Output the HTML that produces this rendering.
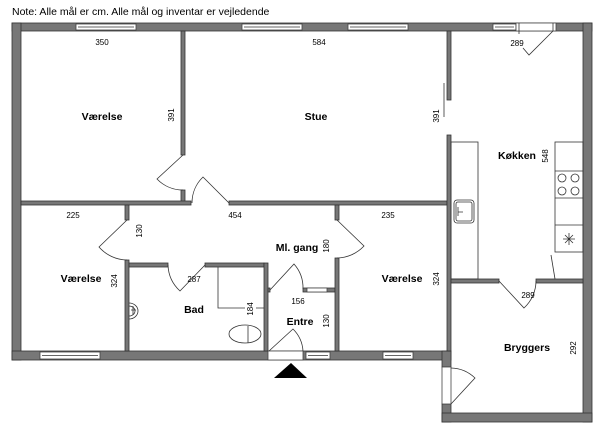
<!DOCTYPE html>
<html><head><meta charset="utf-8"><style>
body{margin:0;background:#fff;width:600px;height:432px;overflow:hidden}
svg{display:block}
.w{fill:#777;stroke:#333;stroke-width:.8}
.l{fill:none;stroke:#333;stroke-width:.8}
.win{fill:#fff;stroke:#444;stroke-width:.8}
text{font-family:"Liberation Sans",sans-serif;fill:#000}
.d{font-size:8px}
.r{font-size:10.5px;font-weight:bold}
</style></head><body>
<svg width="600" height="432" viewBox="0 0 600 432">
<text x="12" y="15" font-size="10.5">Note: Alle mål er cm. Alle mål og inventar er vejledende</text>
<rect class="w" x="12" y="23" width="580" height="8"/>
<rect class="w" x="12" y="23" width="9" height="337"/>
<rect class="w" x="12" y="351" width="439" height="9"/>
<rect class="w" x="583" y="23" width="9" height="399"/>
<rect class="w" x="442" y="351" width="9" height="16"/>
<rect class="w" x="442" y="404" width="9" height="18"/>
<rect class="w" x="442" y="413" width="150" height="9"/>
<rect class="win" x="76" y="24" width="60" height="6"/><line class="l" x1="78" y1="27" x2="134" y2="27"/>
<rect class="win" x="242" y="24" width="60" height="6"/><line class="l" x1="244" y1="27" x2="300" y2="27"/>
<rect class="win" x="348" y="24" width="60" height="6"/><line class="l" x1="350" y1="27" x2="406" y2="27"/>
<rect class="win" x="493" y="24" width="23" height="6"/><line class="l" x1="495" y1="27" x2="514" y2="27"/>
<rect x="516" y="23" width="40" height="8" fill="#fff" stroke="#444" stroke-width=".8"/>
<line class="l" x1="519" y1="23" x2="519" y2="34"/><line class="l" x1="553" y1="23" x2="553" y2="31"/>
<path class="l" d="M553 31 L529 55 L523 48"/>
<rect class="win" x="40" y="352" width="60" height="7"/><line class="l" x1="42" y1="355.5" x2="98" y2="355.5"/>
<rect class="win" x="306" y="352" width="24" height="7"/><line class="l" x1="308" y1="355.5" x2="328" y2="355.5"/>
<rect class="win" x="383" y="352" width="30" height="7"/><line class="l" x1="385" y1="355.5" x2="411" y2="355.5"/>
<rect x="268" y="351" width="35" height="9" fill="#fff" stroke="#444" stroke-width=".8"/>
<rect x="442" y="367" width="9" height="37" fill="#fff" stroke="#444" stroke-width=".8"/>
<rect class="w" x="181" y="31" width="4" height="124"/>
<rect class="w" x="181" y="190" width="4" height="12"/>
<rect class="w" x="21" y="201" width="170" height="4"/>
<rect class="w" x="229" y="201" width="218" height="4"/>
<rect class="w" x="447" y="31" width="4" height="69"/>
<rect class="w" x="447" y="135" width="4" height="216"/>
<line class="l" x1="444" y1="83" x2="444" y2="117"/>
<rect class="w" x="451" y="279" width="48" height="4"/>
<rect class="w" x="536" y="279" width="47" height="4"/>
<rect class="w" x="125" y="205" width="4" height="15"/>
<rect class="w" x="125" y="260" width="4" height="91"/>
<rect class="w" x="129" y="263" width="39" height="4"/>
<rect class="w" x="205" y="263" width="59" height="4"/>
<rect class="w" x="264" y="263" width="4" height="88"/>
<rect class="w" x="268" y="288" width="2" height="4"/>
<rect class="w" x="303" y="288" width="32" height="4"/>
<rect class="win" x="307" y="288" width="20" height="4"/>
<rect class="w" x="335" y="205" width="4" height="15"/>
<rect class="w" x="335" y="258" width="4" height="93"/>
<path class="l" d="M183 155 L157 179 A36 36 0 0 0 183 190"/>
<path class="l" d="M229 203 L203 177 A36 36 0 0 0 192 203"/>
<path class="l" d="M127 220 L99 247 A38 38 0 0 0 127 260"/>
<path class="l" d="M168 265 A37 37 0 0 0 180 291 L205 265"/>
<path class="l" d="M270 290 L294 264 A36 36 0 0 1 303 289"/>
<path class="l" d="M337 220 L364 246 A38 38 0 0 1 337 258"/>
<path class="l" d="M269 351 L293 329 A34 34 0 0 1 303 351"/>
<path class="l" d="M499 281 L524 308 A37 37 0 0 0 536 281"/>
<path class="l" d="M451 404 L475 378 A36 36 0 0 0 451 368"/>
<polygon points="274,378 291,363 307,378" fill="#000"/>
<rect class="l" x="451" y="142" width="27" height="137"/>
<rect class="l" x="454" y="200" width="20" height="23" rx="3"/>
<rect class="l" x="456" y="202" width="16" height="19" rx="2"/>
<path class="l" d="M458 207 V216 M458 212 H463"/>
<rect class="l" x="555" y="142" width="28" height="110"/>
<path class="l" d="M555 171 H583 M555 198 H583 M555 225 H583"/>
<circle class="l" cx="562" cy="178" r="4"/><circle class="l" cx="575" cy="178" r="4"/>
<circle class="l" cx="562" cy="191" r="4"/><circle class="l" cx="575" cy="191" r="4"/>
<path class="l" d="M563 239 H575 M569 233 V245 M565 235 L573 243 M573 235 L565 243"/>
<line class="l" x1="551" y1="255" x2="555" y2="279"/>
<path class="l" d="M218 267 V308 H245 M256 308 H264"/>
<ellipse class="l" cx="245" cy="334" rx="16" ry="9"/>
<line class="l" x1="248" y1="326" x2="248" y2="343"/>
<path class="l" d="M129 303 A9 8 0 0 1 129 319"/>
<path class="l" d="M129 306 A6 5 0 0 1 129 316 M133 306 V315 M131 310 H136"/>
<g class="d" text-anchor="middle">
<text x="102" y="45">350</text><text x="319" y="45">584</text><text x="517" y="46">289</text>
<text x="73" y="218">225</text><text x="235" y="218">454</text><text x="388" y="218">235</text>
<text x="194" y="282">287</text><text x="298" y="304">156</text><text x="528" y="298">289</text>
<text transform="translate(174,115) rotate(-90)">391</text>
<text transform="translate(439,116) rotate(-90)">391</text>
<text transform="translate(548,156) rotate(-90)">548</text>
<text transform="translate(142,231) rotate(-90)">130</text>
<text transform="translate(329,246) rotate(-90)">180</text>
<text transform="translate(117,281) rotate(-90)">324</text>
<text transform="translate(253,309) rotate(-90)">184</text>
<text transform="translate(329,321) rotate(-90)">130</text>
<text transform="translate(439,279) rotate(-90)">324</text>
<text transform="translate(576,348) rotate(-90)">292</text>
</g>
<g class="r" text-anchor="middle">
<text x="102" y="120">Værelse</text><text x="316" y="120">Stue</text><text x="517" y="159">Køkken</text>
<text x="297" y="251">Ml. gang</text><text x="81" y="282">Værelse</text><text x="194" y="313">Bad</text>
<text x="300" y="325">Entre</text><text x="402" y="282">Værelse</text><text x="527" y="351">Bryggers</text>
</g>
</svg>
</body></html>
